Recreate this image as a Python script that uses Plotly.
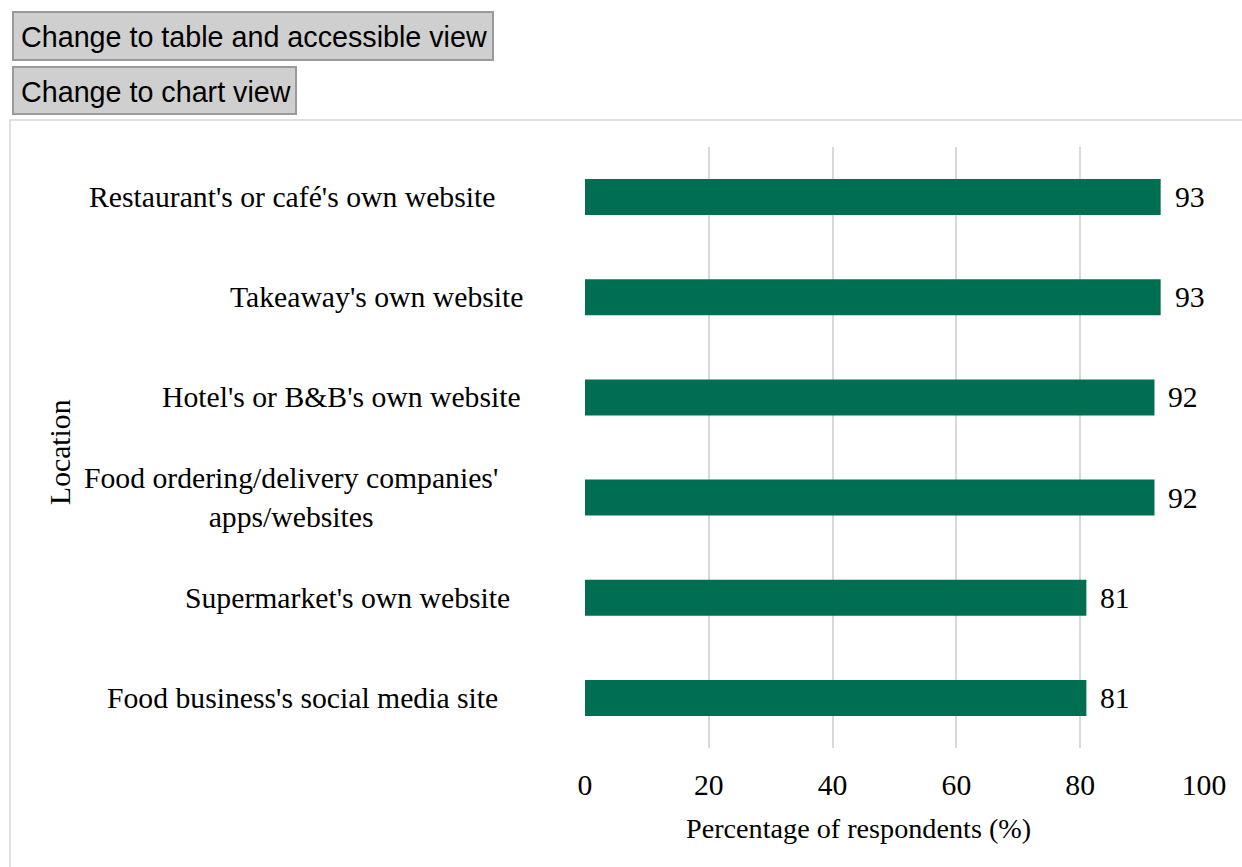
import plotly.graph_objects as go

# Survey results: share of respondents by location
locations = [
    "Restaurant's or café's own website",
    "Takeaway's own website",
    "Hotel's or B&B's own website",
    "Food ordering/delivery companies'<br>apps/websites",
    "Supermarket's own website",
    "Food business's social media site",
]
percentages = [93, 93, 92, 92, 81, 81]
x_ticks = [0, 20, 40, 60, 80, 100]

# Right edge (in pixels) of each category label
label_right_px = [497, 525, 523, 500, 512, 500]

W, H = 1242, 867
L, R, T, B = 585, 38, 147, 119
plot_w = W - L - R
plot_h = H - T - B

GREEN = "#006f51"
GRID = "#d9d9d9"
SERIF = "Liberation Serif, Times New Roman, serif"
SANS = "Liberation Sans, Arial, sans-serif"
FS = 29.7

fig = go.Figure(
    go.Bar(
        x=percentages,
        y=locations,
        orientation="h",
        marker=dict(color=GREEN, line=dict(width=0)),
        width=0.36,
        hoverinfo="x+y",
    )
)


def px_x(p):
    return (p - L) / plot_w


def px_y(p):
    return 1 - (p - T) / plot_h


annotations = []
# Category labels
for loc, rpx in zip(locations, label_right_px):
    annotations.append(dict(
        x=px_x(rpx), xref="paper", y=loc, yref="y",
        text=loc, showarrow=False, xanchor="right", yanchor="middle",
        align="center", font=dict(family=SERIF, size=FS, color="#000"),
    ))
# Value labels
for loc, v in zip(locations, percentages):
    annotations.append(dict(
        x=v, xref="x", y=loc, yref="y", text=str(v), showarrow=False,
        xanchor="left", yanchor="middle", xshift=12,
        font=dict(family=SERIF, size=FS, color="#000"),
    ))
# Axis titles
annotations.append(dict(
    x=px_x(60), xref="paper", y=px_y(452), yref="paper",
    text="Location", textangle=-90, showarrow=False,
    xanchor="center", yanchor="middle",
    font=dict(family=SERIF, size=FS, color="#000"),
))
annotations.append(dict(
    x=px_x(858), xref="paper", y=px_y(828), yref="paper",
    text="Percentage of respondents (%)", showarrow=False,
    xanchor="center", yanchor="middle",
    font=dict(family=SERIF, size=28.2, color="#000"),
))

# Buttons above the chart
buttons = [
    ("Change to table and accessible view", 13, 12, 493, 60),
    ("Change to chart view", 13, 67, 296, 114),
]
shapes = []

for text, x0, y0, x1, y1 in buttons:
    shapes.append(dict(
        type="rect", xref="paper", yref="paper",
        x0=px_x(x0), x1=px_x(x1), y0=px_y(y1), y1=px_y(y0),
        fillcolor="#cfcfcf", line=dict(color="#9a9a9a", width=2), layer="above",
    ))
    annotations.append(dict(
        x=px_x(x0 + 6), xref="paper", y=px_y((y0 + y1) / 2 + 1), yref="paper",
        text=text, showarrow=False, xanchor="left", yanchor="middle",
        font=dict(family=SANS, size=28.7, color="#000"),
    ))

# Chart frame
shapes.append(dict(
    type="path", xref="paper", yref="paper",
    path=f"M {px_x(1250)} {px_y(120)} L {px_x(10)} {px_y(120)} L {px_x(10)} {px_y(880)}",
    line=dict(color="#e0e0e0", width=2), layer="below",
))

fig.update_layout(
    width=W, height=H,
    margin=dict(l=L, r=R, t=T, b=B, pad=0),
    paper_bgcolor="white", plot_bgcolor="white",
    showlegend=False,
    xaxis=dict(
        range=[0, 100], tickvals=x_ticks, ticktext=[str(t) for t in x_ticks],
        showgrid=True, gridcolor=GRID, gridwidth=2,
        zeroline=False, showline=False,
        ticks="outside", ticklen=10, tickcolor="rgba(0,0,0,0)",
        tickfont=dict(family=SERIF, size=FS, color="#000"),
        fixedrange=True,
    ),
    yaxis=dict(
        categoryorder="array", categoryarray=locations[::-1],
        showticklabels=False, showgrid=False, zeroline=False, showline=False,
        range=[-0.5, len(locations) - 0.5], fixedrange=True,
    ),
    annotations=annotations,
    shapes=shapes,
)

fig.write_html("out.html", config={"displayModeBar": False})
